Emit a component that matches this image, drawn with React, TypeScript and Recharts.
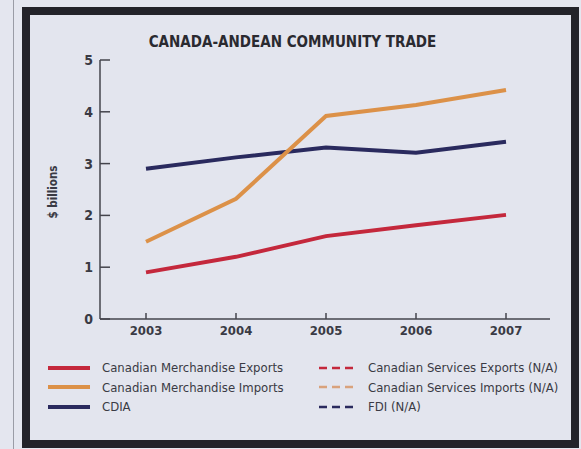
import { LineChart, Line, XAxis, YAxis } from "recharts";

const years = ["2003", "2004", "2005", "2006", "2007"];
const merchExports = [0.9, 1.2, 1.6, 1.81, 2.01];
const merchImports = [1.49, 2.32, 3.92, 4.13, 4.42];
const cdia = [2.9, 3.12, 3.31, 3.21, 3.42];
const yTicks = [0, 1, 2, 3, 4, 5];

const RED = "#c4283c";
const ORANGE = "#dc9148";
const NAVY = "#2a2a5e";
const INK = "#3a3a44";
const FONT = "'Liberation Sans Narrow', 'DejaVu Sans Condensed', 'Roboto', sans-serif";

const data = years.map((year, i) => ({
  year,
  exports: merchExports[i],
  imports: merchImports[i],
  cdia: cdia[i],
}));

const legendLeft = [
  { label: "Canadian Merchandise Exports", color: RED },
  { label: "Canadian Merchandise Imports", color: ORANGE },
  { label: "CDIA", color: NAVY },
];
const legendRight = [
  { label: "Canadian Services Exports (N/A)", color: RED },
  { label: "Canadian Services Imports (N/A)", color: "#d9a27c" },
  { label: "FDI (N/A)", color: NAVY },
];

function LegendColumn({
  items,
  left,
  dashed,
}: {
  items: { label: string; color: string }[];
  left: number;
  dashed: boolean;
}) {
  return (
    <div style={{ position: "absolute", left, top: 358 }}>
      {items.map((it) => (
        <div
          key={it.label}
          style={{ display: "flex", alignItems: "center", height: 19.5 }}
        >
          <svg width={dashed ? 38 : 42} height={6} style={{ marginRight: dashed ? 11 : 12 }}>
            <line
              x1={0}
              y1={3}
              x2={dashed ? 38 : 42}
              y2={3}
              stroke={it.color}
              strokeWidth={dashed ? 2.5 : 4}
              strokeDasharray={dashed ? "8 5" : undefined}
              strokeLinecap={dashed ? "butt" : "round"}
            />
          </svg>
          <span style={{ fontSize: 13, color: INK, fontFamily: FONT, whiteSpace: "nowrap" }}>
            {it.label}
          </span>
        </div>
      ))}
    </div>
  );
}

export default function App() {
  return (
    <div
      style={{
        position: "absolute",
        left: 0,
        top: 0,
        width: 581,
        height: 449,
        background: "#e4e6ef",
        overflow: "hidden",
      }}
    >
      {/* page edge line */}
      <div style={{ position: "absolute", left: 13, top: 0, width: 1, height: 449, background: "#9a9ca6" }} />
      {/* frame */}
      <div
        style={{
          position: "absolute",
          left: 22,
          top: 7,
          width: 557,
          height: 441,
          boxSizing: "border-box",
          border: "8px solid #23232a",
          background: "#e3e5ee",
        }}
      />

      <div
        style={{
          position: "absolute",
          left: 0,
          top: 33,
          width: 585,
          textAlign: "center",
          fontFamily: FONT,
          fontWeight: 700,
          fontSize: 15,
          color: "#2a2a30",
        }}
      >
        CANADA-ANDEAN COMMUNITY TRADE
      </div>

      <div style={{ position: "absolute", left: 0, top: 0 }}>
        <LineChart
          width={581}
          height={449}
          data={data}
          margin={{ top: 60, right: 31, bottom: 100, left: 60 }}
        >
          <XAxis
            dataKey="year"
            height={30}
            padding={{ left: 46, right: 44 }}
            stroke="#44444c"
            strokeWidth={1.5}
            tickSize={-6}
            tickMargin={13}
            tick={{ fontSize: 13, fontFamily: FONT, fill: INK, fontWeight: 700 }}
          />
          <YAxis
            width={40}
            domain={[0, 5]}
            ticks={yTicks}
            interval={0}
            stroke="#44444c"
            strokeWidth={1.5}
            tickSize={-10}
            tickMargin={17}
            tick={{ fontSize: 14, fontFamily: FONT, fill: INK, fontWeight: 700 }}
            label={{
              content: ({ viewBox }: any) => (
                <text
                  x={viewBox.x - 7}
                  y={viewBox.y + 132}
                  transform={`rotate(-90 ${viewBox.x - 7} ${viewBox.y + 132})`}
                  textAnchor="middle"
                  dominantBaseline="central"
                  fontSize={11.5}
                  fontWeight={700}
                  fontFamily={FONT}
                  fill={INK}
                >
                  $ billions
                </text>
              ),
            }}
          />
          <Line
            dataKey="cdia"
            stroke={NAVY}
            strokeWidth={4}
            dot={false}
            type="linear"
            isAnimationActive={false}
          />
          <Line
            dataKey="exports"
            stroke={RED}
            strokeWidth={4}
            dot={false}
            type="linear"
            isAnimationActive={false}
          />
          <Line
            dataKey="imports"
            stroke={ORANGE}
            strokeWidth={4}
            dot={false}
            type="linear"
            isAnimationActive={false}
          />
        </LineChart>
      </div>

      <LegendColumn items={legendLeft} left={48} dashed={false} />
      <LegendColumn items={legendRight} left={319} dashed={true} />
    </div>
  );
}
